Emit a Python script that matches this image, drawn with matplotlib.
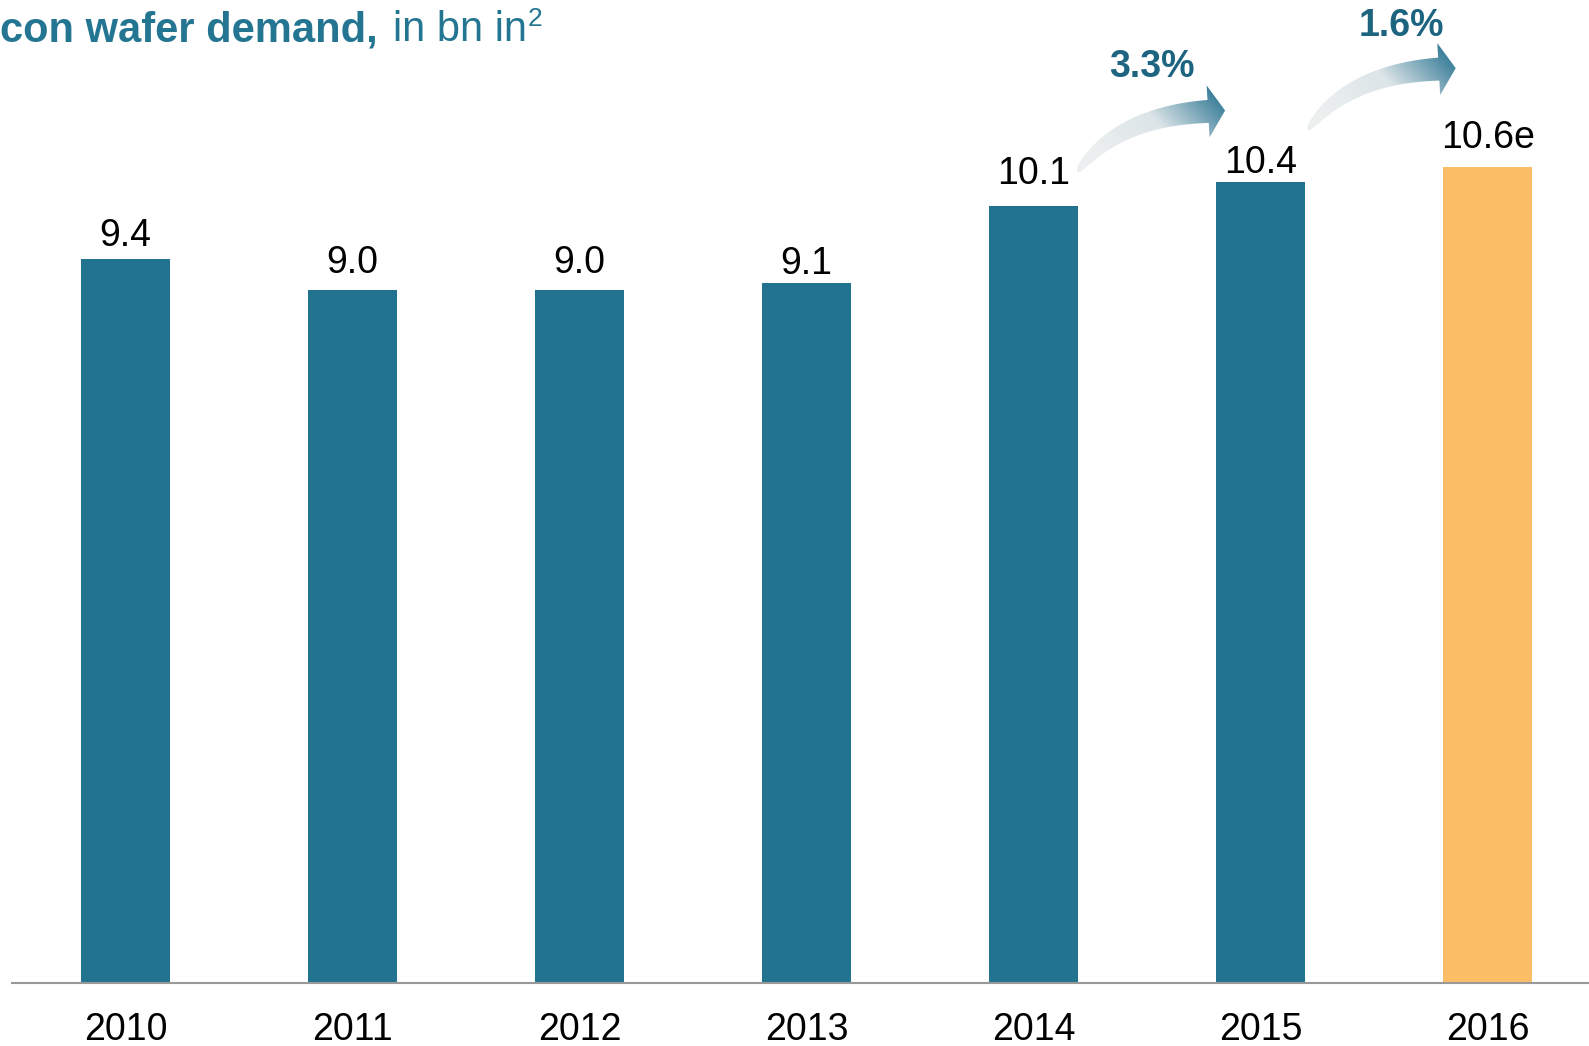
import numpy as np
import matplotlib.pyplot as plt
from matplotlib.path import Path
from matplotlib.patches import PathPatch
from matplotlib.colors import LinearSegmentedColormap

plt.rcParams['font.family'] = ['Liberation Sans', 'DejaVu Sans']

# data
years = ['2010', '2011', '2012', '2013', '2014', '2015', '2016']
values = [9.4, 9.0, 9.0, 9.1, 10.1, 10.4, 10.6]
value_labels = ['9.4', '9.0', '9.0', '9.1', '10.1', '10.4', '10.6e']
growth_from = [4, 5]          # arrows start at these bars
growth_labels = ['3.3%', '1.6%']

# layout tweaks (not data)
label_gap = [3.6, 6.5, 6.5, 0.7, 9.4, 0.7, 7.9]   # points above bar
arrow_tail_y = [10.53, 11.08]                     # data units
arrow_tail_dx = [0.191, 0.207]
pct_offset = [(75, 105), (94, 104)]               # pixels from tail

teal = '#21738F'
orange = '#FBBE67'
dark_teal = '#1D6480'

W, H = 1589, 1046
fig = plt.figure(figsize=(W / 100, H / 100), dpi=100)
ax = fig.add_axes([12 / W, 63 / H, (W - 12) / W, 983 / H])

x = np.arange(len(years))
colors = [teal] * (len(years) - 1) + [orange]
ax.bar(x, values, width=0.39, color=colors, zorder=2)

ax.set_xlim(-0.501, 6.446)
ax.set_ylim(0, 12.77)
for s in ['top', 'right', 'left']:
    ax.spines[s].set_visible(False)
ax.spines['bottom'].set_color('#999999')
ax.spines['bottom'].set_linewidth(1.5)
ax.set_yticks([])
ax.set_xticks(x)
ax.set_xticklabels(years, fontsize=27)
ax.tick_params(axis='x', length=0, pad=21)

for xi, v, lab, g in zip(x, values, value_labels, label_gap):
    ax.annotate(lab, (xi, v), xytext=(0, g), textcoords='offset points',
                ha='center', va='bottom', fontsize=27)

# gradient curved arrows
px_x = 227.0  # pixels per x unit
px_y = 77.0   # pixels per y unit
cmap = LinearSegmentedColormap.from_list('arr', ['#ECEFEF', '#DCE5E8', '#2C7592'])


def curved_arrow(x0, y0):
    # geometry in pixels relative to the tail, y up
    P0 = np.array([0.0, 0.0])
    P1 = np.array([40.0, 56.0])
    P2 = np.array([131.0, 61.0])
    t = np.linspace(0, 1, 80)[:, None]
    c = (1 - t) ** 2 * P0 + 2 * (1 - t) * t * P1 + t ** 2 * P2
    d = 2 * (1 - t) * (P1 - P0) + 2 * t * (P2 - P1)
    d = d / np.linalg.norm(d, axis=1)[:, None]
    n = np.column_stack([-d[:, 1], d[:, 0]])
    w = 11.5 * t[:, 0] ** 0.4
    upper = c + n * w[:, None]
    lower = c - n * w[:, None]
    tang = d[-1]
    nor = n[-1]
    head = [P2 + nor * 26, P2 + tang * 17, P2 - nor * 26]
    pts = np.vstack([upper, head, lower[::-1]])
    pts = np.vstack([pts, pts[:1]])
    dx = x0 + pts[:, 0] / px_x
    dy = y0 + pts[:, 1] / px_y
    verts = np.column_stack([dx, dy])
    codes = [Path.MOVETO] + [Path.LINETO] * (len(verts) - 2) + [Path.CLOSEPOLY]
    patch = PathPatch(Path(verts, codes), facecolor='none', edgecolor='none')
    ax.add_patch(patch)
    # gradient image
    xmin, xmax = dx.min(), dx.max()
    ymin, ymax = dy.min(), dy.max()
    gx, gy = np.meshgrid(np.linspace(0, 1, 200), np.linspace(0, 1, 200))
    g = 0.65 * gx + 0.35 * gy
    g = np.clip((g - 0.15) / 0.8, 0, 1)
    im = ax.imshow(g, extent=[xmin, xmax, ymin, ymax], origin='lower',
                   cmap=cmap, aspect='auto', zorder=3, interpolation='bilinear')
    im.set_clip_path(patch)


for i, lab, ty, tdx, (ox, oy) in zip(growth_from, growth_labels, arrow_tail_y,
                                     arrow_tail_dx, pct_offset):
    x0 = x[i] + tdx
    curved_arrow(x0, ty)
    ax.text(x0 + ox / px_x, ty + oy / px_y, lab, ha='center', va='center',
            fontsize=27, fontweight='bold', color=dark_teal)

ax.set_xlim(-0.501, 6.446)
ax.set_ylim(0, 12.77)

# title (cropped at the left edge in the original)
base = 1 - 41 / H
t1 = fig.text(0, base, 'con wafer demand,', fontsize=30, fontweight='bold',
              color='#237592', va='baseline', ha='left')
fig.canvas.draw()
bb = t1.get_window_extent()
t2 = fig.text((bb.x1 + 15) / W, base, 'in bn in', fontsize=30,
              color='#237592', va='baseline', ha='left')
fig.canvas.draw()
bb2 = t2.get_window_extent()
fig.text((bb2.x1 + 1) / W, base + 15 / H, '2', fontsize=19,
         color='#237592', va='baseline', ha='left')

fig.savefig('out.png', dpi=100)
